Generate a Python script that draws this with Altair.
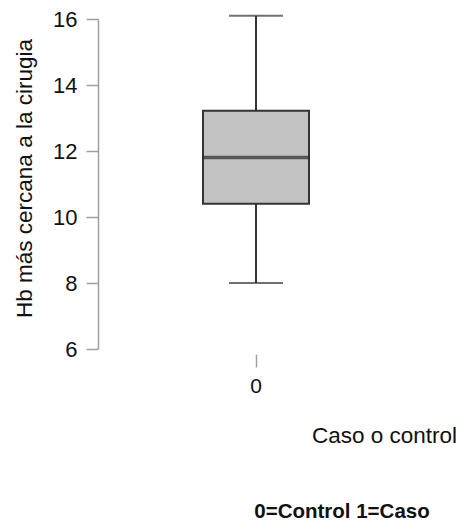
import altair as alt
import pandas as pd

groups = ["0"]
lower = [8.0]
q1 = [10.4]
median = [11.8]
q3 = [13.22]
upper = [16.1]

df = pd.DataFrame({"g": groups, "lo": lower, "q1": q1, "med": median, "q3": q3, "hi": upper})

FONT = "Liberation Sans"
W, H = 316, 330

x = alt.X("g:N", title="Caso o control",
          scale=alt.Scale(paddingInner=0, paddingOuter=0),
          axis=alt.Axis(labelAngle=0, domain=False, tickColor="#a0a0a0", tickWidth=1.5,
                        tickSize=13, offset=5, labelFontSize=21, labelFont=FONT,
                        labelColor="#111", labelPadding=8,
                        titleFont=FONT, titleFontSize=22.5, titleFontWeight="normal",
                        titleColor="#111", titleX=286, titleY=88, titleAlign="center",
                        titleBaseline="alphabetic"))
yscale = alt.Scale(domain=[6, 16], nice=False, zero=False)
yaxis = alt.Axis(values=[6, 8, 10, 12, 14, 16], domainColor="#a0a0a0", domainWidth=1.5,
                 tickColor="#a0a0a0", tickWidth=1.5, tickSize=12, labelFontSize=22,
                 labelFont=FONT, labelColor="#111", labelPadding=9, grid=False,
                 title="Hb más cercana a la cirugia", titleFont=FONT, titleFontSize=22.5,
                 titleFontWeight="normal", titleColor="#111", titleX=-67, titleY=159,
                 titleAlign="center", titleBaseline="alphabetic", titleAngle=-90)

base = alt.Chart(df)

whisker = base.mark_rule(color="#333", strokeWidth=2).encode(
    x=x, y=alt.Y("lo:Q", scale=yscale, axis=yaxis), y2="hi:Q")
box = base.mark_bar(size=106, color="#c3c3c3", stroke="#333", strokeWidth=2).encode(
    x=x, y=alt.Y("q1:Q", scale=yscale), y2="q3:Q")
med = base.mark_tick(size=106, thickness=3.5, color="#262626").encode(
    x=x, y=alt.Y("med:Q", scale=yscale))
cap_lo = base.mark_tick(size=54, thickness=2, color="#333").encode(
    x=x, y=alt.Y("lo:Q", scale=yscale))
cap_hi = base.mark_tick(size=54, thickness=2, color="#333").encode(
    x=x, y=alt.Y("hi:Q", scale=yscale))
note = base.mark_text(font=FONT, fontSize=20.5, fontWeight="bold", color="#111",
                      align="center", baseline="alphabetic").encode(
    x=alt.value(244), y=alt.value(499), text=alt.value("0=Control 1=Caso"))

chart = alt.layer(whisker, box, med, cap_lo, cap_hi, note).properties(
    width=W, height=H,
    background="white",
    autosize=alt.AutoSizeParams(type="none"),
    padding={"left": 90, "top": 11, "right": 44, "bottom": 172},
).configure_view(strokeWidth=0, stroke="transparent")

chart.save("out.html", embed_options={"renderer": "svg", "actions": False})
